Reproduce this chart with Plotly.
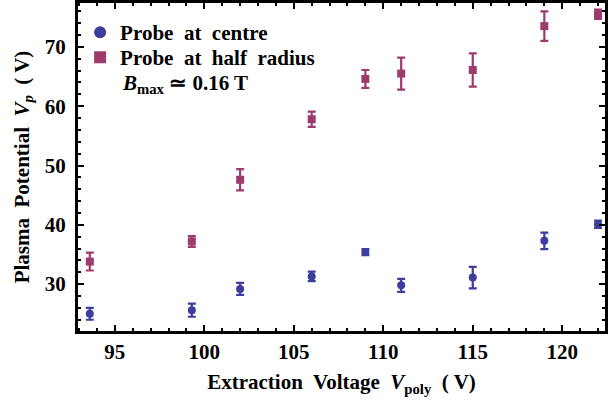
import plotly.graph_objects as go

# Data
x_vals = [93.6, 99.3, 102.0, 106.0, 109.0, 111.0, 115.0, 119.0, 122.0]
centre_vals = [25.0, 25.6, 29.2, 31.3, 35.4, 29.8, 31.1, 37.3, 40.1]
centre_err = [1.0, 1.1, 1.0, 0.8, 0.5, 1.1, 1.8, 1.4, 0.6]
half_vals = [33.8, 37.2, 47.6, 57.8, 64.6, 65.5, 66.1, 73.5, 75.5]
half_err = [1.5, 0.9, 1.8, 1.3, 1.5, 2.7, 2.8, 2.5, 0.8]

blue = "#3d3d9d"
mag = "#9d3b6d"
FONT = "Liberation Serif"

fig = go.Figure()
fig.add_trace(go.Scatter(
    x=x_vals, y=centre_vals, mode="markers", name="Probe  at  centre",
    marker=dict(symbol="circle", size=8, color=blue), legend="legend",
    error_y=dict(type="data", array=centre_err, color=blue, thickness=2.2, width=4),
))
fig.add_trace(go.Scatter(
    x=x_vals, y=half_vals, mode="markers", name="Probe  at  half  radius",
    marker=dict(symbol="square", size=8, color=mag), legend="legend2",
    error_y=dict(type="data", array=half_err, color=mag, thickness=2.2, width=4),
))

fig.add_annotation(
    xref="paper", yref="paper", x=0.079, y=0.753, xanchor="left", yanchor="middle",
    text="<i>B</i><sub>max</sub> ≃ 0.16 T", showarrow=False,
    font=dict(family=FONT, size=21, color="black", weight="bold"),
)

axis_common = dict(
    showgrid=False, zeroline=False, showline=True, linecolor="black",
    ticks="inside", tickcolor="black", mirror="ticks",
    tickfont=dict(family=FONT, size=21, color="black", weight="bold"),
)

leg_common = dict(x=0.004, xanchor="left", yanchor="top",
                  bgcolor="rgba(0,0,0,0)", itemsizing="constant",
                  font=dict(family=FONT, size=21, color="black", weight="bold"),
                  itemwidth=30)

fig.update_layout(
    width=608, height=404,
    margin=dict(l=78, r=0, t=3, b=73),
    paper_bgcolor="white", plot_bgcolor="white",
    showlegend=True,
    legend=dict(y=0.9726, **leg_common),
    legend2=dict(y=0.896, **leg_common),
    xaxis=dict(range=[92.94, 122.39], tickvals=[95, 100, 105, 110, 115, 120],
               ticklen=6, tickwidth=2, linewidth=3,
               minor=dict(dtick=1, ticks="inside", ticklen=3, tickwidth=2, tickcolor="black"),
               title=dict(text="Extraction  Voltage  <i>V</i><sub>poly</sub>  ( V)", standoff=12,
                          font=dict(family=FONT, size=21, color="black", weight="bold")),
               **axis_common),
    yaxis=dict(range=[22.1, 77.4], tickvals=[30, 40, 50, 60, 70],
               ticklen=6, tickwidth=2, linewidth=3, ticklabelstandoff=5,
               minor=dict(dtick=2, ticks="inside", ticklen=3, tickwidth=2, tickcolor="black"),
               title=dict(text="Plasma  Potential  <i>V</i><sub><i>p</i></sub>  ( V)", standoff=10,
                          font=dict(family=FONT, size=21, color="black", weight="bold")),
               **axis_common),
)

fig.write_html("out.html")
